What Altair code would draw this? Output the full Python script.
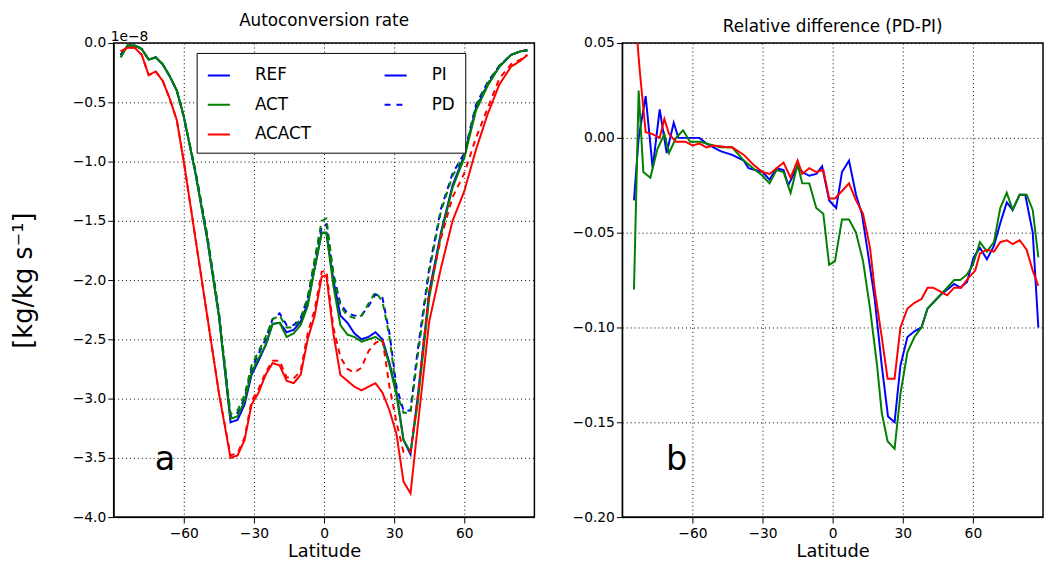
import pandas as pd
import altair as alt

# latitude grid for panel a (values in units of 1e-8 kg/kg/s)
lat = [-87, -84, -81, -78, -75, -72, -69, -66, -63, -60, -55, -50, -45, -40, -37, -34, -31, -28,
       -25, -22, -19, -16, -13, -10, -7, -4, -1, 1, 4, 7, 10, 13, 16, 19, 22, 25, 28, 31, 34, 37,
       40, 45, 50, 55, 60, 65, 70, 75, 80, 84, 87]

ref_pi = [-0.10, -0.02, -0.02, -0.05, -0.14, -0.12, -0.18, -0.28, -0.40, -0.62, -1.10, -1.65, -2.30,
          -3.20, -3.18, -3.05, -2.80, -2.68, -2.55, -2.37, -2.36, -2.44, -2.42, -2.35, -2.20, -1.90,
          -1.60, -1.60, -2.00, -2.30, -2.36, -2.45, -2.50, -2.48, -2.44, -2.50, -2.70, -2.95, -3.35,
          -3.47, -3.00, -2.10, -1.60, -1.20, -0.95, -0.55, -0.35, -0.20, -0.10, -0.07, -0.06]
ref_pd = [-0.10, -0.02, -0.02, -0.05, -0.14, -0.12, -0.18, -0.28, -0.40, -0.62, -1.08, -1.62, -2.27,
          -3.15, -3.12, -3.00, -2.75, -2.62, -2.50, -2.33, -2.28, -2.38, -2.38, -2.32, -2.15, -1.85,
          -1.55, -1.53, -1.95, -2.20, -2.28, -2.30, -2.30, -2.22, -2.12, -2.15, -2.45, -2.90, -3.10,
          -3.10, -2.60, -1.90, -1.40, -1.10, -0.93, -0.52, -0.33, -0.19, -0.10, -0.07, -0.06]
act_pi = [-0.12, -0.02, -0.02, -0.05, -0.14, -0.12, -0.18, -0.28, -0.40, -0.62, -1.10, -1.65, -2.30,
          -3.17, -3.15, -3.02, -2.78, -2.66, -2.55, -2.37, -2.36, -2.48, -2.45, -2.38, -2.22, -1.90,
          -1.60, -1.60, -2.05, -2.38, -2.46, -2.48, -2.52, -2.50, -2.48, -2.52, -2.72, -2.97, -3.35,
          -3.45, -3.05, -2.15, -1.62, -1.22, -0.97, -0.57, -0.36, -0.20, -0.10, -0.07, -0.06]
act_pd = [-0.12, -0.02, -0.02, -0.05, -0.14, -0.12, -0.18, -0.28, -0.40, -0.62, -1.08, -1.62, -2.27,
          -3.13, -3.10, -2.97, -2.72, -2.60, -2.48, -2.33, -2.30, -2.40, -2.40, -2.33, -2.15, -1.82,
          -1.50, -1.48, -1.95, -2.22, -2.30, -2.32, -2.30, -2.20, -2.10, -2.18, -2.48, -2.95, -3.12,
          -3.12, -2.65, -1.93, -1.42, -1.12, -0.95, -0.53, -0.34, -0.19, -0.10, -0.07, -0.06]
acact_pi = [-0.07, -0.04, -0.04, -0.10, -0.27, -0.24, -0.32, -0.47, -0.65, -1.00, -1.65, -2.30, -2.95,
            -3.50, -3.48, -3.35, -3.05, -2.95, -2.80, -2.70, -2.72, -2.85, -2.87, -2.80, -2.50, -2.30,
            -1.97, -1.96, -2.45, -2.80, -2.85, -2.90, -2.93, -2.90, -2.87, -2.95, -3.10, -3.30, -3.70,
            -3.80, -3.25, -2.35, -1.90, -1.50, -1.25, -0.90, -0.60, -0.35, -0.20, -0.15, -0.10]
acact_pd = [-0.07, -0.04, -0.04, -0.10, -0.27, -0.24, -0.32, -0.47, -0.65, -1.00, -1.65, -2.30, -2.95,
            -3.48, -3.46, -3.33, -3.02, -2.92, -2.78, -2.68, -2.68, -2.82, -2.83, -2.77, -2.45, -2.25,
            -1.93, -1.92, -2.40, -2.65, -2.75, -2.78, -2.74, -2.60, -2.53, -2.50, -2.90, -3.20, -3.45,
            -3.45, -3.00, -2.10, -1.65, -1.30, -1.10, -0.80, -0.55, -0.30, -0.18, -0.14, -0.10]

# panel b: relative difference (PD-PI)
lat_ref = [-85, -83, -80, -77, -74, -71, -68, -66, -60, -57, -54, -48, -43, -38, -36, -30, -27, -24,
           -21, -19, -15, -13, -10, -7, -4.5, -1.5, 1.5, 4, 7, 10, 12.5, 15, 18, 21, 23.7, 26.5, 29,
           32, 35, 38, 40.6, 46, 52, 54.6, 57.5, 60.3, 63, 66, 69, 71.7, 74.5, 77, 80, 82.4, 85.6, 88]
rel_ref = [-0.033, 0.0, 0.022, -0.016, 0.015, -0.008, 0.008, 0.0, 0.0, 0.0, -0.003, -0.007, -0.009,
           -0.012, -0.016, -0.018, -0.022, -0.016, -0.017, -0.025, -0.015, -0.018, -0.020, -0.019,
           -0.015, -0.033, -0.037, -0.018, -0.012, -0.030, -0.040, -0.060, -0.085, -0.120, -0.147,
           -0.150, -0.120, -0.105, -0.102, -0.100, -0.090, -0.083, -0.077, -0.079, -0.076, -0.063,
           -0.058, -0.064, -0.057, -0.045, -0.034, -0.038, -0.030, -0.030, -0.050, -0.100]
lat_act = [-85, -83, -81, -78, -75, -72, -70, -67, -64, -61, -57, -54, -48, -43, -38, -34, -30, -27,
           -24, -21, -18, -15, -13, -10, -7, -4, -1.5, 1, 4, 7, 10, 13, 16, 19, 21, 23.5, 26.5, 29,
           32, 35, 38, 40.6, 46, 52, 54.6, 57.5, 60, 63, 66, 69, 71.7, 74.5, 77, 80, 83, 85.6, 88]
rel_act = [-0.080, 0.025, -0.018, -0.021, -0.006, 0.002, -0.008, 0.0, 0.004, -0.002, -0.002, -0.003,
           -0.005, -0.005, -0.012, -0.016, -0.020, -0.024, -0.017, -0.018, -0.029, -0.014, -0.024,
           -0.024, -0.037, -0.040, -0.067, -0.065, -0.043, -0.043, -0.050, -0.065, -0.090, -0.120,
           -0.145, -0.160, -0.164, -0.135, -0.113, -0.105, -0.100, -0.090, -0.083, -0.075, -0.075,
           -0.072, -0.067, -0.055, -0.060, -0.055, -0.037, -0.029, -0.038, -0.030, -0.030, -0.038,
           -0.063]
lat_acact = [-83.5, -82.5, -80, -77, -74, -72, -70, -67, -63, -60, -57, -54, -51, -45, -43, -38, -34,
             -30, -27, -24, -21, -18, -15, -13, -10, -7, -4, -1.5, 1, 4, 7, 10, 13, 16, 18, 21, 23.5,
             26.5, 29, 32, 35, 38, 40.6, 43, 46, 49, 52, 55, 58, 61, 63, 66, 69, 71.7, 74.5, 77, 80,
             83, 85.6, 88]
rel_acact = [0.050, 0.035, 0.003, 0.002, 0.0, 0.010, 0.002, -0.002, -0.002, -0.004, -0.003, -0.005,
             -0.004, -0.005, -0.005, -0.009, -0.014, -0.018, -0.019, -0.016, -0.013, -0.021, -0.012,
             -0.019, -0.016, -0.018, -0.017, -0.032, -0.032, -0.028, -0.024, -0.033, -0.040, -0.058,
             -0.080, -0.105, -0.127, -0.127, -0.100, -0.090, -0.087, -0.085, -0.079, -0.079, -0.081,
             -0.083, -0.079, -0.079, -0.074, -0.070, -0.061, -0.059, -0.060, -0.055, -0.054, -0.056,
             -0.054, -0.059, -0.070, -0.078]

legend_keys = ["REF", "ACT", "ACACT", "PI", "PD"]
legend_colors = ["#0000ff", "#008000", "#ff0000", "#0000ff", "#0000ff"]
legend_dash = [[1, 0], [1, 0], [1, 0], [1, 0], [6, 6]]

W, H = 426, 480
font = "DejaVu Sans"
xscale = alt.Scale(domain=[-90, 90], nice=False)
xaxis = alt.Axis(values=[-60, -30, 0, 30, 60], title="Latitude", grid=True, gridDash=[1, 3],
                 gridColor="black", gridOpacity=1, titleFontSize=18, titleFontWeight="normal",
                 labelFontSize=14, labelPadding=4, titlePadding=2)

left_series = [
    ("REF", "PI", ref_pi, "#0000ff", [1, 0]),
    ("REF", "PD", ref_pd, "#0000ff", [6, 5]),
    ("ACT", "PI", act_pi, "#008000", [1, 0]),
    ("ACT", "PD", act_pd, "#008000", [6, 5]),
    ("ACACT", "PI", acact_pi, "#ff0000", [1, 0]),
    ("ACACT", "PD", acact_pd, "#ff0000", [6, 5]),
]

yleft = alt.Scale(domain=[-4, 0], nice=False)
yaxis_l = alt.Axis(values=[-4 + 0.5 * i for i in range(9)], format=".1f", grid=True, gridDash=[1, 3],
                   gridColor="black", gridOpacity=1, labelFontSize=14, title="[kg/kg s⁻¹]",
                   titleFontSize=26, titleFontWeight="normal", titlePadding=36)
X = alt.X("lat:Q", scale=xscale, axis=xaxis)
Y = alt.Y("val:Q", scale=yleft, axis=yaxis_l)

layers = []
for model, period, vals, col, dash in left_series:
    df = pd.DataFrame({"lat": lat, "val": vals})
    layers.append(alt.Chart(df).mark_line(color=col, strokeDash=dash, strokeWidth=2, clip=True).encode(
        x=X, y=Y))

leg_df = pd.DataFrame({"key": legend_keys, "lat": [None] * 5, "val": [None] * 5})
legend_layer = alt.Chart(leg_df).mark_line(strokeWidth=2).encode(
    x=X, y=Y,
    color=alt.Color("key:N", scale=alt.Scale(domain=legend_keys, range=legend_colors),
                    legend=alt.Legend(title=None, orient="none", legendX=84, legendY=10, columns=2,
                                      symbolType="stroke", symbolSize=500, symbolStrokeWidth=2,
                                      labelFontSize=17, columnPadding=70, rowPadding=9,
                                      fillColor="white", strokeColor="black", padding=10,
                                      labelOffset=24)),
    strokeDash=alt.StrokeDash("key:N", scale=alt.Scale(domain=legend_keys, range=legend_dash),
                              legend=alt.Legend(title=None)),
)

label_a = alt.Chart(pd.DataFrame({"t": ["a"]})).mark_text(fontSize=34, font=font).encode(
    x=alt.value(52), y=alt.value(422), text="t:N")
offset = alt.Chart(pd.DataFrame({"t": ["1e−8"]})).mark_text(fontSize=14, font=font).encode(
    x=alt.value(16), y=alt.value(-6), text="t:N")

left = alt.layer(*layers, legend_layer, label_a, offset).properties(
    width=W, height=H, title=alt.TitleParams("Autoconversion rate", fontSize=17, fontWeight="normal",
                                             offset=0))

right_df = pd.concat([
    pd.DataFrame({"lat": lat_ref, "val": rel_ref, "exp": "REF"}),
    pd.DataFrame({"lat": lat_act, "val": rel_act, "exp": "ACT"}),
    pd.DataFrame({"lat": lat_acact, "val": rel_acact, "exp": "ACACT"}),
])
yaxis_r = alt.Axis(values=[-0.2 + 0.05 * i for i in range(6)], format=".2f", grid=True,
                   gridDash=[1, 3], gridColor="black", gridOpacity=1, labelFontSize=14, title=None)
right_lines = alt.Chart(right_df).mark_line(strokeWidth=2, clip=True).encode(
    x=X,
    y=alt.Y("val:Q", scale=alt.Scale(domain=[-0.2, 0.05], nice=False), axis=yaxis_r),
    color=alt.Color("exp:N", scale=alt.Scale(domain=["REF", "ACT", "ACACT"],
                                             range=["#0000ff", "#008000", "#ff0000"]), legend=None),
    detail="exp:N",
)
label_b = alt.Chart(pd.DataFrame({"t": ["b"]})).mark_text(fontSize=34, font=font).encode(
    x=alt.value(55), y=alt.value(422), text="t:N")
right = alt.layer(right_lines, label_b).properties(
    width=W, height=H, title=alt.TitleParams("Relative difference (PD-PI)", fontSize=17,
                                             fontWeight="normal", offset=0))

chart = alt.hconcat(left, right, spacing=36).resolve_scale(color="independent",
                                                          strokeDash="independent").properties(
    padding={"left": 2, "top": 0, "right": 0, "bottom": 0}).configure(
    font=font).configure_view(stroke="black", strokeWidth=1.5).configure_axis(
    domainColor="black", tickColor="black", labelColor="black", titleColor="black",
    tickSize=6, labelFont=font, titleFont=font)

chart.save("out.html", embed_options={"renderer": "svg", "actions": False})
